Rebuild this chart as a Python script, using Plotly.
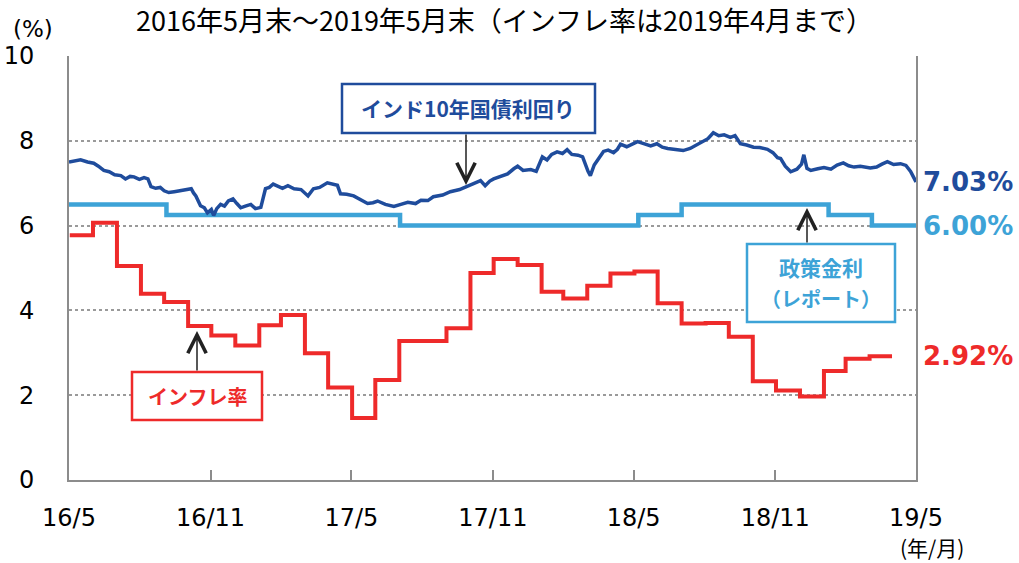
import plotly.graph_objects as go
import pandas as pd

# ---------------- data ----------------
# India 10Y government bond yield (%)
yield_series = [
    ("2016-05-31", 7.50), ("2016-06-10", 7.52), ("2016-06-15", 7.55), ("2016-06-24", 7.50),
    ("2016-07-02", 7.47), ("2016-07-08", 7.40), ("2016-07-15", 7.30), ("2016-07-22", 7.27),
    ("2016-07-29", 7.20), ("2016-08-06", 7.18), ("2016-08-12", 7.10), ("2016-08-18", 7.16),
    ("2016-08-23", 7.15), ("2016-08-30", 7.09), ("2016-09-05", 7.13), ("2016-09-10", 7.10),
    ("2016-09-14", 6.92), ("2016-09-20", 6.88), ("2016-09-26", 6.90), ("2016-10-01", 6.82),
    ("2016-10-07", 6.78), ("2016-10-14", 6.80), ("2016-10-24", 6.83), ("2016-11-05", 6.87),
    ("2016-11-08", 6.77), ("2016-11-11", 6.70), ("2016-11-17", 6.47), ("2016-11-22", 6.42),
    ("2016-11-26", 6.30), ("2016-12-01", 6.38), ("2016-12-04", 6.24), ("2016-12-08", 6.40),
    ("2016-12-13", 6.50), ("2016-12-18", 6.46), ("2016-12-23", 6.58), ("2016-12-29", 6.63),
    ("2017-01-03", 6.52), ("2017-01-08", 6.42), ("2017-01-14", 6.46), ("2017-01-21", 6.50),
    ("2017-01-27", 6.40), ("2017-02-03", 6.43), ("2017-02-09", 6.87), ("2017-02-14", 6.90),
    ("2017-02-19", 6.98), ("2017-02-25", 6.94), ("2017-03-03", 6.88), ("2017-03-10", 6.94),
    ("2017-03-18", 6.87), ("2017-03-27", 6.85), ("2017-04-05", 6.70), ("2017-04-12", 6.87),
    ("2017-04-20", 6.90), ("2017-04-30", 7.01), ("2017-05-06", 6.98), ("2017-05-13", 6.95),
    ("2017-05-17", 6.75), ("2017-05-25", 6.74), ("2017-06-03", 6.70), ("2017-06-12", 6.62),
    ("2017-06-21", 6.52), ("2017-06-28", 6.54), ("2017-07-04", 6.58), ("2017-07-14", 6.50),
    ("2017-07-25", 6.45), ("2017-08-03", 6.50), ("2017-08-12", 6.55), ("2017-08-22", 6.52),
    ("2017-08-29", 6.60), ("2017-09-07", 6.59), ("2017-09-14", 6.68), ("2017-09-26", 6.72),
    ("2017-10-06", 6.80), ("2017-10-18", 6.85), ("2017-10-28", 6.92), ("2017-11-08", 7.00),
    ("2017-11-14", 7.06), ("2017-11-20", 6.94), ("2017-11-26", 7.05), ("2017-12-01", 7.10),
    ("2017-12-09", 7.15), ("2017-12-19", 7.22), ("2017-12-27", 7.34), ("2018-01-01", 7.40),
    ("2018-01-08", 7.30), ("2018-01-18", 7.32), ("2018-01-25", 7.28), ("2018-02-02", 7.62),
    ("2018-02-08", 7.55), ("2018-02-14", 7.68), ("2018-02-21", 7.74), ("2018-02-28", 7.70),
    ("2018-03-06", 7.79), ("2018-03-12", 7.68), ("2018-03-20", 7.66), ("2018-03-26", 7.62),
    ("2018-04-02", 7.28), ("2018-04-05", 7.18), ("2018-04-10", 7.43), ("2018-04-14", 7.53),
    ("2018-04-22", 7.75), ("2018-04-28", 7.78), ("2018-05-05", 7.72), ("2018-05-10", 7.80),
    ("2018-05-14", 7.92), ("2018-05-22", 7.86), ("2018-05-29", 7.92), ("2018-06-05", 7.98),
    ("2018-06-12", 7.94), ("2018-06-22", 7.88), ("2018-06-30", 7.93), ("2018-07-07", 7.85),
    ("2018-07-14", 7.82), ("2018-07-22", 7.80), ("2018-08-03", 7.77), ("2018-08-12", 7.82),
    ("2018-08-25", 7.96), ("2018-09-04", 8.05), ("2018-09-11", 8.19), ("2018-09-18", 8.12),
    ("2018-09-25", 8.14), ("2018-10-03", 8.08), ("2018-10-09", 8.12), ("2018-10-16", 7.93),
    ("2018-10-24", 7.90), ("2018-11-02", 7.85), ("2018-11-10", 7.84), ("2018-11-20", 7.80),
    ("2018-11-27", 7.72), ("2018-12-03", 7.60), ("2018-12-07", 7.58), ("2018-12-13", 7.40),
    ("2018-12-20", 7.27), ("2018-12-28", 7.33), ("2019-01-03", 7.45), ("2019-01-06", 7.67),
    ("2019-01-10", 7.35), ("2019-01-15", 7.30), ("2019-01-24", 7.34), ("2019-02-01", 7.37),
    ("2019-02-10", 7.33), ("2019-02-18", 7.43), ("2019-02-26", 7.48), ("2019-03-05", 7.41),
    ("2019-03-12", 7.38), ("2019-03-20", 7.40), ("2019-04-02", 7.36), ("2019-04-10", 7.38),
    ("2019-04-17", 7.45), ("2019-04-24", 7.51), ("2019-05-02", 7.44), ("2019-05-11", 7.46),
    ("2019-05-18", 7.42), ("2019-05-24", 7.28), ("2019-05-31", 7.03),
]
yield_dates = [d for d, _ in yield_series]
yield_values = [v for _, v in yield_series]

# RBI policy repo rate (%)
policy_dates = ["2016-05-31", "2016-10-04", "2017-08-02", "2018-06-06",
                "2018-08-01", "2019-02-07", "2019-04-04", "2019-05-31"]
policy_values = [6.50, 6.25, 6.00, 6.25, 6.50, 6.25, 6.00, 6.00]

# CPI inflation (% y/y), monthly
infl_months = ["2016-06","2016-07","2016-08","2016-09","2016-10","2016-11","2016-12",
               "2017-01","2017-02","2017-03","2017-04","2017-05","2017-06","2017-07",
               "2017-08","2017-09","2017-10","2017-11","2017-12","2018-01","2018-02",
               "2018-03","2018-04","2018-05","2018-06","2018-07","2018-08","2018-09",
               "2018-10","2018-11","2018-12","2019-01","2019-02","2019-03","2019-04"]
infl_values = [5.77, 6.07, 5.05, 4.39, 4.20, 3.63, 3.41,
               3.17, 3.65, 3.89, 2.99, 2.18, 1.46, 2.36,
               3.28, 3.28, 3.58, 4.88, 5.21, 5.07, 4.44,
               4.28, 4.58, 4.87, 4.92, 4.17, 3.69, 3.70,
               3.38, 2.33, 2.11, 1.97, 2.57, 2.86, 2.92]

tick_dates = ["2016-05-31", "2016-11-30", "2017-05-31", "2017-11-30",
              "2018-05-31", "2018-11-30", "2019-05-31"]
tick_labels = ["16/5", "16/11", "17/5", "17/11", "18/5", "18/11", "19/5"]
y_ticks = [0, 2, 4, 6, 8, 10]

title_text = "2016年5月末～2019年5月末（インフレ率は2019年4月まで）"

# ---------------- styles ----------------
NAVY = "#1F4C9C"
LBLUE = "#3DA3D7"
RED = "#EE2A2A"
GREY = "#8C8C8C"
JP = "Noto Sans CJK JP"
NUM = "DejaVu Sans"

# inflation step: each month's value spans the month
infl_x = [pd.Period(m, "M").start_time.strftime("%Y-%m-%d") for m in infl_months]
infl_x.append(pd.Period(infl_months[-1], "M").end_time.strftime("%Y-%m-%d"))
infl_y = infl_values + [infl_values[-1]]

fig = go.Figure()
fig.add_trace(go.Scatter(x=policy_dates, y=policy_values, mode="lines",
                         line=dict(color=LBLUE, width=4.5, shape="hv"), hoverinfo="skip"))
fig.add_trace(go.Scatter(x=infl_x, y=infl_y, mode="lines",
                         line=dict(color=RED, width=4, shape="hv"), hoverinfo="skip"))
fig.add_trace(go.Scatter(x=yield_dates, y=yield_values, mode="lines",
                         line=dict(color=NAVY, width=3.5), hoverinfo="skip"))

L, R, T, B = 69, 103, 56, 83
W, H = 1019, 563
pw, ph = W - L - R, H - T - B


def px(x):
    return (x - L) / pw


def py(y):
    return (T + ph - y) / ph


fig.update_layout(
    width=W, height=H, margin=dict(l=L, r=R, t=T, b=B, autoexpand=False),
    paper_bgcolor="white", plot_bgcolor="white", showlegend=False,
    xaxis=dict(type="date", range=[tick_dates[0], tick_dates[-1]],
               tickvals=tick_dates, ticktext=tick_labels, automargin=False,
               ticks="inside", ticklen=10, tickwidth=1.5, tickcolor=GREY,
               showline=True, linecolor=GREY, linewidth=2,
               showgrid=False, zeroline=False,
               tickfont=dict(family=NUM, size=24, color="black"),
               ticklabelstandoff=15),
    yaxis=dict(range=[0, 10], tickvals=y_ticks, automargin=False,
               showline=True, mirror=True, linecolor=GREY, linewidth=2,
               showgrid=True, gridcolor="#9A9A9A", griddash="dot", gridwidth=1.5,
               zeroline=False, ticks="",
               tickfont=dict(family=NUM, size=24, color="black"),
               ticklabelstandoff=28),
)

# boxes
boxes = [
    (342, 84, 595, 133, NAVY),
    (132, 372, 262, 420, RED),
    (747, 244, 895, 322, LBLUE),
]
for x0, y0, x1, y1, c in boxes:
    fig.add_shape(type="rect", xref="paper", yref="paper",
                  x0=px(x0), x1=px(x1), y0=py(y1), y1=py(y0),
                  line=dict(color=c, width=2.5), fillcolor="white", layer="above")

ann = []
# arrows
for xa, ytip, ytail in [(466, 185, 133), (197, 331, 372), (807, 208, 244)]:
    ann.append(dict(xref="paper", yref="paper", x=px(xa), y=py(ytip), text="",
                    showarrow=True, ax=0, ay=ytail - ytip, arrowhead=5,
                    arrowsize=2.4, arrowwidth=1.5, arrowcolor="#222222", standoff=0))


def label(xp, yp, text, size, color, family=JP):
    ann.append(dict(xref="paper", yref="paper", x=px(xp), y=py(yp), text=text,
                    xanchor="center", yanchor="middle", showarrow=False,
                    font=dict(family=family, size=size, color=color)))


# box labels
label(468, 108, "<b>インド10年国債利回り</b>", 21, NAVY)
label(197, 396, "<b>インフレ率</b>", 20, RED)
label(821, 267, "<b>政策金利</b>", 21, LBLUE)
label(821, 298, "<b>（レポート）</b>", 20, LBLUE)
# end values
for vals, c in [(yield_values, NAVY), (policy_values, LBLUE), (infl_values, RED)]:
    ann.append(dict(xref="paper", yref="y", x=px(921), y=vals[-1], xanchor="left",
                    yanchor="middle", text=f"<b>{vals[-1]:.2f}%</b>", showarrow=False,
                    font=dict(family=NUM, size=26, color=c)))
# title and units
label(504, 20, title_text, 27, "black")
label(33, 29, "(%)", 23, "black", family=NUM)
label(932, 547, "(年/月)", 21, "black")
fig.update_layout(annotations=ann)

fig.write_html("out.html", config={"displayModeBar": False},
               post_script="document.body.style.margin='0px';")
